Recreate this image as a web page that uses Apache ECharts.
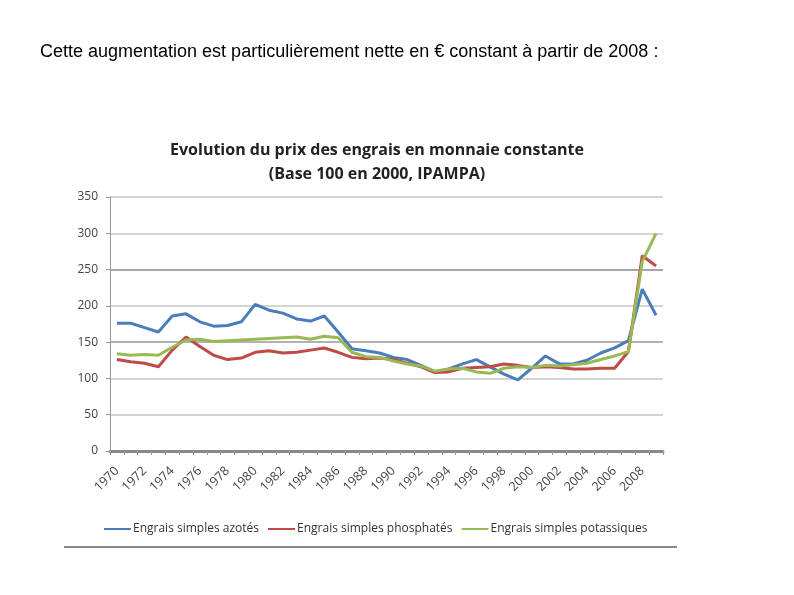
<!DOCTYPE html>
<html>
<head>
<meta charset="utf-8">
<script src="https://cdn.jsdelivr.net/npm/echarts@6/dist/echarts.min.js"></script>
<style>html,body{margin:0;padding:0;background:#fff;}#c{width:794px;height:595px;}</style>
</head>
<body>
<div id="c"></div>
<script>
var years = [];
for (var y = 1970; y <= 2009; y++) years.push(String(y));

var azotes = [176,176,170,164,186,189,178,172,173,178,202,194,190,182,179,186,164,141,138,135,129,126,118,109,113,120,126,116,106,98,114,131,120,120,125,135,142,152,223,187];
var phosphates = [126,123,121,116,139,157,144,132,126,128,136,138,135,136,139,142,136,129,127,128,126,121,116,108,109,114,115,116,120,118,115,116,115,113,113,114,114,137,269,255];
var potassiques = [134,132,133,132,143,153,154,151,152,153,154,155,156,157,154,158,156,136,130,129,124,120,117,110,113,114,109,107,114,116,115,118,117,119,121,126,131,137,261,300];

var yTicks = [0,50,100,150,200,250,300,350];

var chart = echarts.init(document.getElementById('c'));
chart.setOption({
  animation: false,
  backgroundColor: '#fff',
  title: {
    text: 'Evolution du prix des engrais en monnaie constante\n(Base 100 en 2000, IPAMPA)',
    left: 372, top: 133, textAlign: 'center',
    textStyle: {fontFamily: 'Open Sans', fontWeight: 'bold', fontSize: 16, color: '#222', lineHeight: 24}
  },
  graphic: [
    {type: 'text', left: 40, top: 43, style: {text: 'Cette augmentation est particulièrement nette en € constant à partir de 2008 :', font: '18px "Liberation Sans", Arial', fill: '#000'}},
    {type: 'rect', shape: {x: 64, y: 546, width: 613, height: 2}, style: {fill: '#888'}}
  ],
  legend: {
    data: ['Engrais simples azotés','Engrais simples phosphatés','Engrais simples potassiques'],
    left: 99, top: 518, itemGap: 9, itemWidth: 27, itemHeight: 2, icon: 'rect',
    textStyle: {fontFamily: 'Open Sans', fontSize: 12, color: '#333', padding: [0,0,0,-3]}
  },
  grid: {left: 110, right: 131, top: 197, bottom: 144, containLabel: false},
  xAxis: {
    type: 'category', data: years, boundaryGap: true,
    axisLine: {lineStyle: {color: '#888', width: 3}},
    axisTick: {show: true, interval: 0, length: 4, lineStyle: {color: '#999'}},
    axisLabel: {interval: 1, rotate: 45, fontFamily: 'Open Sans', fontSize: 12.5, color: '#444', margin: 18}
  },
  yAxis: {
    type: 'value', min: 0, max: 350, interval: 50,
    axisLine: {show: true, lineStyle: {color: '#999', width: 1}},
    axisTick: {show: true, length: 4, lineStyle: {color: '#999'}},
    axisLabel: {fontFamily: 'Open Sans', fontSize: 12, color: '#444', margin: 12},
    splitLine: {show: true, lineStyle: {color: ['#bbb','#c4c4c4','#c4c4c4','#999','#c4c4c4','#888','#c4c4c4','#c4c4c4'], width: 1.5}}
  },
  series: [
    {name: 'Engrais simples azotés', type: 'line', data: azotes, symbol: 'none', lineStyle: {width: 3, color: '#4A7EBB'}, itemStyle: {color: '#4A7EBB'}},
    {name: 'Engrais simples phosphatés', type: 'line', data: phosphates, symbol: 'none', lineStyle: {width: 3, color: '#BE4B48'}, itemStyle: {color: '#BE4B48'}},
    {name: 'Engrais simples potassiques', type: 'line', data: potassiques, symbol: 'none', lineStyle: {width: 3, color: '#98B954'}, itemStyle: {color: '#98B954'}}
  ]
});
</script>
</body>
</html>
